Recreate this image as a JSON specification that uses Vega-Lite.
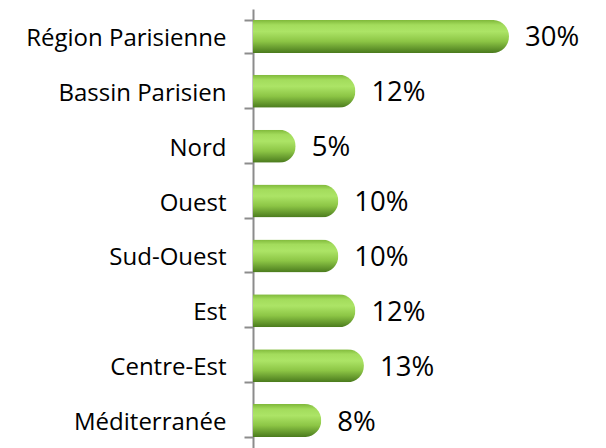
{
  "$schema": "https://vega.github.io/schema/vega-lite/v6.json",
  "width": 256,
  "height": 439,
  "autosize": "none",
  "padding": {"left": 253, "top": 9, "right": 97, "bottom": 0},
  "background": "white",
  "config": {"view": {"stroke": null}, "font": "Open Sans"},
  "data": {"values": [
    {"region": "Région Parisienne", "value": 30, "label": "30%"},
    {"region": "Bassin Parisien", "value": 12, "label": "12%"},
    {"region": "Nord", "value": 5, "label": "5%"},
    {"region": "Ouest", "value": 10, "label": "10%"},
    {"region": "Sud-Ouest", "value": 10, "label": "10%"},
    {"region": "Est", "value": 12, "label": "12%"},
    {"region": "Centre-Est", "value": 13, "label": "13%"},
    {"region": "Méditerranée", "value": 8, "label": "8%"}
  ]},
  "encoding": {
    "y": {"field": "region", "type": "nominal", "sort": null,
      "scale": {"paddingInner": 0.4, "paddingOuter": 0.2},
      "axis": {"title": null, "tickBand": "extent", "domainColor": "#8c8c8c", "domainWidth": 2,
        "tickColor": "#8c8c8c", "tickWidth": 2, "tickSize": 9, "labelPadding": 18,
        "labelFont": "Open Sans", "labelFontSize": 24, "labelColor": "#000000", "labelLimit": 300, "labelBaseline": "middle", "labelOffset": 2}},
    "x": {"field": "value", "type": "quantitative", "scale": {"domain": [0, 30], "nice": false}, "axis": null}
  },
  "layer": [
    {"mark": {"type": "bar", "cornerRadiusEnd": 16.5,
      "color": {"gradient": "linear", "x1": 0, "y1": 0, "x2": 0, "y2": 1,
        "stops": [
          {"offset": 0, "color": "#7fb83a"},
          {"offset": 0.15, "color": "#a3dc5c"},
          {"offset": 0.35, "color": "#ace466"},
          {"offset": 0.65, "color": "#8cc545"},
          {"offset": 1, "color": "#4a7a1d"}
        ]}}},
    {"mark": {"type": "text", "align": "left", "baseline": "middle", "dx": 16, "dy": 2, "fontSize": 27.5, "font": "Open Sans", "color": "#000000"},
      "encoding": {"text": {"field": "label"}}}
  ]
}
